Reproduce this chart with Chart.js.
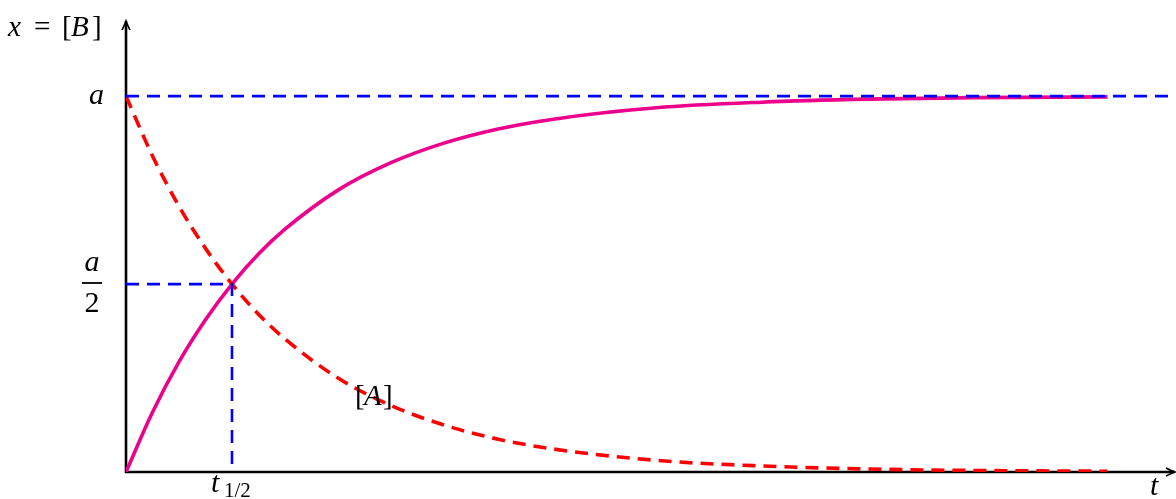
<!DOCTYPE html>
<html>
<head>
<meta charset="utf-8">
<script src="https://cdn.jsdelivr.net/npm/chart.js@4"></script>
<style>
  html, body { margin: 0; padding: 0; background: #fff; }
  #wrap { width: 1176px; height: 499px; }
</style>
</head>
<body>
<div id="wrap"><canvas id="c"></canvas></div>
<script>
// first-order reaction A -> B, time in units of t1/2, concentration in units of a
var tVals = [0, 0.25, 0.5, 0.75, 1, 1.25, 1.5, 2, 2.5, 3, 3.5, 4, 5, 6, 7, 8, 9.26];
var concA = [1, 0.841, 0.707, 0.595, 0.5, 0.42, 0.354, 0.25, 0.177, 0.125, 0.088, 0.0625, 0.031, 0.016, 0.008, 0.004, 0.002];
var concB = [0, 0.159, 0.293, 0.405, 0.5, 0.58, 0.646, 0.75, 0.823, 0.875, 0.912, 0.9375, 0.969, 0.984, 0.992, 0.996, 0.998];
var tHalf = 1;
var aLevel = 1;
var xMax = 9.906;
var yMax = 1.2;

function pts(xs, ys) {
  return xs.map(function (x, i) { return { x: x, y: ys[i] }; });
}

var SERIF = '"Liberation Serif", "DejaVu Serif", serif';

// axes with arrows + text labels
var decorations = {
  id: 'decorations',
  beforeDatasetsDraw: function (chart) {
    var ctx = chart.ctx, xs = chart.scales.x, ys = chart.scales.y;
    var x0 = xs.getPixelForValue(0), y0 = ys.getPixelForValue(0);
    var xEnd = xs.getPixelForValue(xMax) - 1, yTop = ys.getPixelForValue(yMax);
    ctx.save();
    ctx.strokeStyle = '#000';
    ctx.lineWidth = 2.6;
    ctx.beginPath();
    ctx.moveTo(x0 - 1, y0); ctx.lineTo(xEnd, y0);
    ctx.moveTo(x0, y0 + 1); ctx.lineTo(x0, yTop);
    ctx.stroke();
    ctx.lineWidth = 1.6;
    ctx.beginPath();
    ctx.moveTo(x0 - 4, yTop + 9); ctx.quadraticCurveTo(x0 - 1, yTop + 3, x0, yTop);
    ctx.quadraticCurveTo(x0 + 1, yTop + 3, x0 + 4, yTop + 9);
    ctx.moveTo(xEnd - 9, y0 - 4); ctx.quadraticCurveTo(xEnd - 3, y0 - 1, xEnd, y0);
    ctx.quadraticCurveTo(xEnd - 3, y0 + 1, xEnd - 9, y0 + 4);
    ctx.stroke();
    ctx.restore();
  },
  afterDraw: function (chart) {
    var ctx = chart.ctx, xs = chart.scales.x, ys = chart.scales.y;
    var x0 = xs.getPixelForValue(0), y0 = ys.getPixelForValue(0);
    var yA = ys.getPixelForValue(aLevel), yHalf = ys.getPixelForValue(aLevel / 2);
    var xHalf = xs.getPixelForValue(tHalf);
    ctx.save();
    ctx.fillStyle = '#000';
    ctx.textBaseline = 'alphabetic';

    function put(txt, italic, size, x, y) {
      ctx.font = (italic ? 'italic ' : '') + size + 'px ' + SERIF;
      ctx.fillText(txt, x, y);
    }

    // y-axis title  x = [B]
    ctx.textAlign = 'left';
    put('x', true, 29, 8, 36);
    put('=', false, 29, 34, 36);
    put('[', false, 29, 62, 36);
    put('B', true, 29, 71, 36);
    put(']', false, 29, 92, 36);
    // a
    ctx.textAlign = 'right';
    put('a', true, 30, x0 - 22, yA + 8);
    // a/2 fraction
    ctx.textAlign = 'center';
    put('a', true, 30, x0 - 34, yHalf - 13);
    put('2', false, 30, x0 - 34, yHalf + 28);
    ctx.fillRect(x0 - 44, yHalf - 2, 20, 1.8);
    // t1/2
    ctx.textAlign = 'left';
    put('t', true, 30, xHalf - 21, y0 + 20);
    put('1/2', false, 21, xHalf - 8, y0 + 25);
    // [A]
    var ax = xs.getPixelForValue(2.16), ay = ys.getPixelForValue(0.178);
    put('[', false, 29, ax, ay);
    put('A', true, 29, ax + 9, ay);
    put(']', false, 29, ax + 28, ay);
    // t on x-axis
    put('t', true, 30, xs.getPixelForValue(9.66), y0 + 23);
    ctx.restore();
  }
};

new Chart(document.getElementById('c'), {
  type: 'line',
  data: {
    datasets: [
      {
        label: 'guide a',
        data: pts([0, xMax], [aLevel, aLevel]),
        borderColor: '#0000ff', borderWidth: 2.6, borderDash: [13, 8],
        pointRadius: 0, order: 0
      },
      {
        label: 'guide a/2',
        data: pts([0, tHalf, tHalf], [aLevel / 2, aLevel / 2, 0]),
        borderColor: '#0000ff', borderWidth: 2.6, borderDash: [13, 8],
        pointRadius: 0, tension: 0, order: 0
      },
      {
        label: '[A]',
        data: pts(tVals, concA),
        borderColor: '#ff0000', borderWidth: 3.6, borderDash: [13, 8],
        pointRadius: 0, cubicInterpolationMode: 'monotone', order: 1
      },
      {
        label: '[B]',
        data: pts(tVals, concB),
        borderColor: '#ec008c', borderWidth: 3.6,
        pointRadius: 0, cubicInterpolationMode: 'monotone', order: 2
      }
    ]
  },
  options: {
    responsive: true, maintainAspectRatio: false, animation: false,
    layout: { padding: { left: 126, top: 21, right: 0, bottom: 27 } },
    scales: {
      x: { type: 'linear', min: 0, max: xMax, display: false },
      y: { type: 'linear', min: 0, max: yMax, display: false }
    },
    plugins: { legend: { display: false }, tooltip: { enabled: false } }
  },
  plugins: [decorations]
});
</script>
</body>
</html>
